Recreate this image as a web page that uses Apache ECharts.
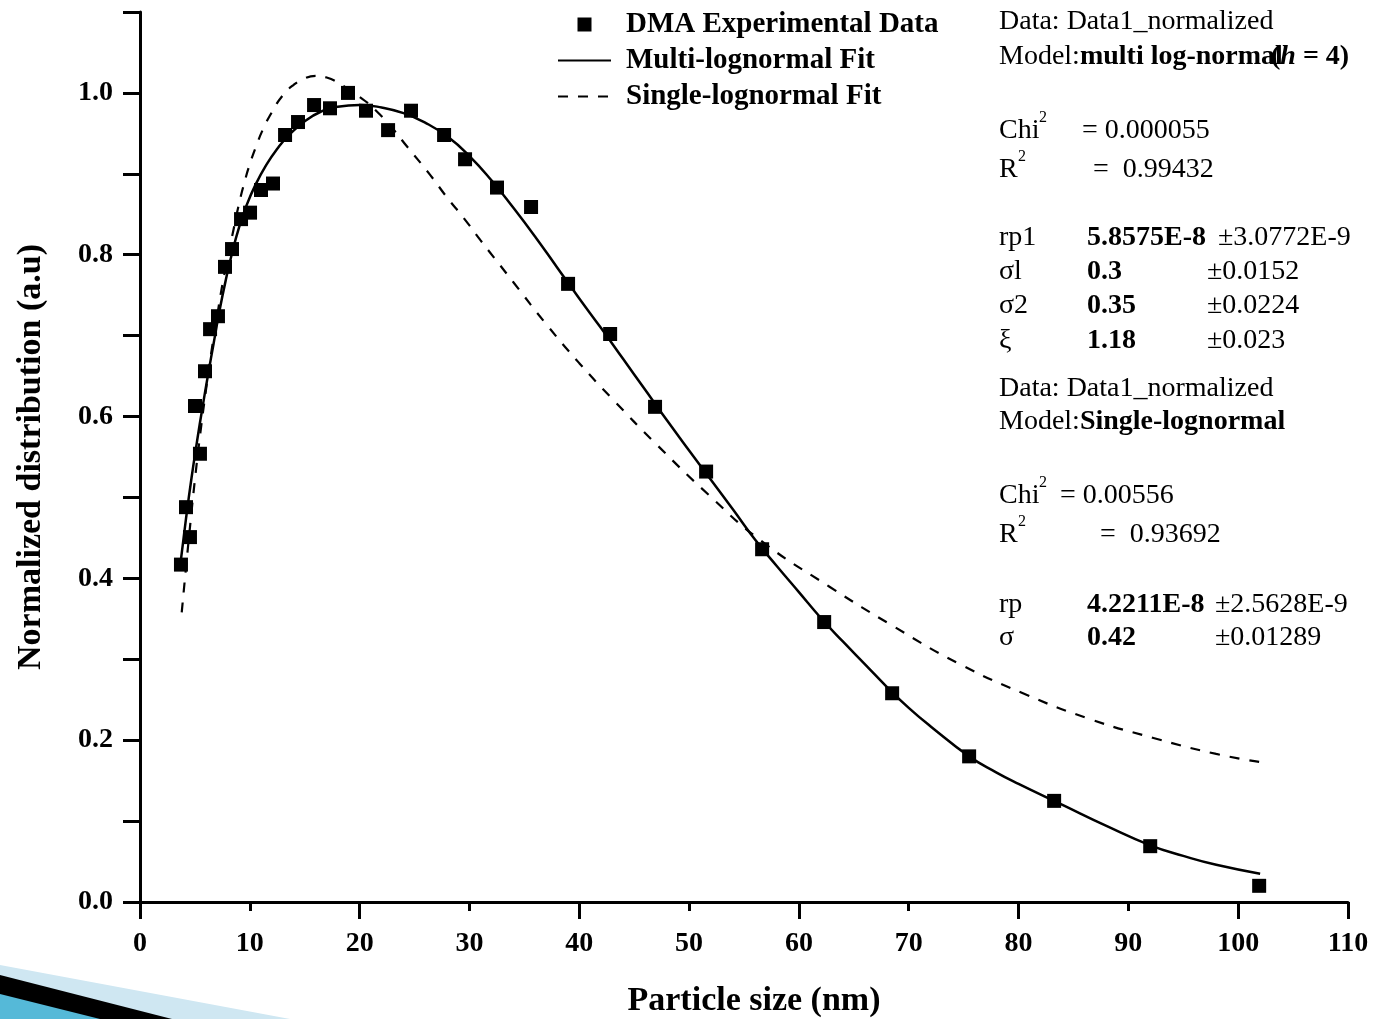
<!DOCTYPE html>
<html>
<head>
<meta charset="utf-8">
<script src="https://cdn.jsdelivr.net/npm/echarts@6/dist/echarts.min.js"></script>
<style>
  html, body { margin: 0; padding: 0; background: #ffffff; }
  #chart { width: 1375px; height: 1019px; }
</style>
</head>
<body>
<div id="chart"></div>
<script>
// DMA measurement: particle size (nm) and normalized distribution
const particleSize = [3.73, 4.19, 4.55, 5.01, 5.46, 5.92, 6.38, 7.10, 7.74, 8.38, 9.20, 10.02, 11.02, 12.11,
  13.21, 14.39, 15.85, 17.30, 18.94, 20.58, 22.59, 24.68, 27.69, 29.60, 32.51, 35.61, 38.98, 42.81,
  46.90, 51.55, 56.65, 62.30, 68.49, 75.50, 83.24, 91.99, 101.91];
const dmaValues = [0.417, 0.488, 0.451, 0.613, 0.554, 0.656, 0.708, 0.724, 0.785, 0.807, 0.844, 0.852, 0.880, 0.888,
  0.948, 0.964, 0.985, 0.981, 1.000, 0.978, 0.954, 0.978, 0.948, 0.918, 0.883, 0.859, 0.764, 0.702,
  0.612, 0.532, 0.436, 0.346, 0.258, 0.180, 0.125, 0.069, 0.020];

// Multi-lognormal fit curve
const multiFitX = [3.7, 4.2, 4.7, 5.2, 5.7, 6.2, 6.7, 7.2, 7.8, 8.4, 9.0, 9.7, 10.5, 11.5, 12.5, 13.5, 15, 16.5, 18,
  20, 22, 24, 26, 28, 30, 32, 34, 36, 38, 40, 42, 44, 46, 48, 50, 52, 54, 56, 58, 60, 62, 64, 66, 68, 70, 72,
  75.5, 78, 80, 84, 88, 92, 95, 98, 102];
const multiFitY = [0.420, 0.475, 0.525, 0.570, 0.612, 0.652, 0.690, 0.728, 0.768, 0.803, 0.833, 0.861, 0.886, 0.911,
  0.931, 0.947, 0.965, 0.977, 0.983, 0.985, 0.982, 0.975, 0.963, 0.946, 0.922, 0.892, 0.858, 0.822, 0.784,
  0.746, 0.709, 0.671, 0.633, 0.595, 0.558, 0.5215, 0.485, 0.448, 0.415, 0.383, 0.351, 0.322, 0.294, 0.266,
  0.240, 0.217, 0.180, 0.160, 0.146, 0.120, 0.094, 0.070, 0.057, 0.046, 0.035];

// Single-lognormal fit curve
const singleFitX = [3.8, 4.2, 4.6, 5.0, 5.5, 6.0, 6.5, 7.0, 7.5, 8.0, 8.5, 9.0, 9.5, 10.0, 10.6, 11.2, 12.0, 13.0,
  14.0, 15.0, 16.0, 17.0, 18.0, 19.0, 20.5, 21.5, 23.0, 24.3, 26.4, 28.0, 29.5, 31.0, 32.5, 34.0, 37.0, 40.0,
  43.0, 47.0, 51.8, 56.5, 62.75, 68.7, 74.5, 80.4, 86.3, 92.2, 98.0, 102.0];
const singleFitY = [0.358, 0.415, 0.470, 0.522, 0.580, 0.632, 0.680, 0.722, 0.763, 0.797, 0.830, 0.862, 0.889, 0.912,
  0.935, 0.955, 0.976, 0.997, 1.010, 1.018, 1.021, 1.019, 1.013, 1.004, 0.990, 0.978, 0.956, 0.934, 0.899,
  0.870, 0.845, 0.818, 0.792, 0.766, 0.714, 0.666, 0.622, 0.566, 0.503, 0.447, 0.390, 0.340, 0.295, 0.258,
  0.227, 0.203, 0.183, 0.173];

const seriesNames = ['DMA Experimental Data', 'Multi-lognormal Fit', 'Single-lognormal Fit'];

const zip = (xs, ys) => xs.map((x, i) => [x, ys[i]]);

const SERIF = '"Liberation Serif", "Times New Roman", serif';
const TXT = 28;

// Fit-report text blocks on the right
const graphicItems = [];
function addText(x, y, text, opt) {
  opt = opt || {};
  graphicItems.push({
    type: 'text', x: x, y: y, z: 10,
    style: {
      text: text,
      fontFamily: SERIF,
      fontSize: opt.size || TXT,
      fontWeight: opt.bold ? 'bold' : 'normal',
      fill: '#000',
      verticalAlign: 'middle',
      rich: {
        b: { fontFamily: SERIF, fontSize: TXT, fontWeight: 'bold', fill: '#000' },
        bi: { fontFamily: SERIF, fontSize: TXT, fontWeight: 'bold', fontStyle: 'italic', fill: '#000' }
      }
    }
  });
}

// block 1: multi log-normal
addText(999, 22, 'Data: Data1_normalized');
addText(999, 57, 'Model:{b|multi log-normal}');
addText(1271, 57, '{b|(}{bi|h}{b| = 4)}');
addText(999, 131, 'Chi');
addText(1039, 118, '2', { size: 16 });
addText(1082, 131, '= 0.000055');
addText(999, 170, 'R');
addText(1018, 157, '2', { size: 16 });
addText(1093, 170, '=  0.99432');
addText(999, 238, 'rp1');
addText(1087, 238, '5.8575E-8', { bold: true });
addText(1218, 238, '\u00b13.0772E-9');
addText(999, 272, '\u03c3l');
addText(1087, 272, '0.3', { bold: true });
addText(1207, 272, '\u00b10.0152');
addText(999, 306, '\u03c32');
addText(1087, 306, '0.35', { bold: true });
addText(1207, 306, '\u00b10.0224');
addText(999, 341, '\u03be');
addText(1087, 341, '1.18', { bold: true });
addText(1207, 341, '\u00b10.023');

// block 2: single log-normal
addText(999, 389, 'Data: Data1_normalized');
addText(999, 422, 'Model:{b|Single-lognormal}');
addText(999, 496, 'Chi');
addText(1039, 483, '2', { size: 16 });
addText(1060, 496, '= 0.00556');
addText(999, 535, 'R');
addText(1018, 522, '2', { size: 16 });
addText(1100, 535, '=  0.93692');
addText(999, 605, 'rp');
addText(1087, 605, '4.2211E-8', { bold: true });
addText(1215, 605, '\u00b12.5628E-9');
addText(999, 638, '\u03c3');
addText(1087, 638, '0.42', { bold: true });
addText(1215, 638, '\u00b10.01289');

// slide-theme ribbon in the lower-left corner
graphicItems.push(
  { type: 'polygon', z: 1, shape: { points: [[0, 965], [290, 1019], [0, 1019]] }, style: { fill: '#cfe7f2' } },
  { type: 'polygon', z: 2, shape: { points: [[0, 975], [172, 1019], [0, 1019]] }, style: { fill: '#000000' } },
  { type: 'polygon', z: 3, shape: { points: [[0, 994], [100, 1019], [0, 1019]] }, style: { fill: '#55b9d8' } }
);

const axisLineStyle = { color: '#000', width: 3 };
const hiddenMarker = { opacity: 0 };

const chart = echarts.init(document.getElementById('chart'), null, { renderer: 'canvas' });
chart.setOption({
  backgroundColor: '#ffffff',
  animation: false,
  grid: { left: 140, right: 27, top: 12, bottom: 117, containLabel: false, outerBoundsMode: 'none' },
  legend: {
    orient: 'vertical',
    left: 557,
    top: 10,
    padding: 0,
    itemWidth: 53,
    itemHeight: 14,
    itemGap: 7,
    selectedMode: false,
    symbolKeepAspect: true,
    textStyle: { fontFamily: SERIF, fontSize: 29, fontWeight: 'bold', color: '#000', lineHeight: 28, padding: [0, 0, 0, 10] },
    data: [
      { name: seriesNames[0], icon: 'path://M0 0H10V10H0Z' },
      { name: seriesNames[1], itemStyle: hiddenMarker },
      { name: seriesNames[2], itemStyle: hiddenMarker }
    ]
  },
  xAxis: [
    {
      type: 'value', min: 0, max: 110, interval: 10,
      name: 'Particle size (nm)', nameLocation: 'middle', nameGap: 82,
      nameTextStyle: { fontFamily: SERIF, fontSize: 34, fontWeight: 'bold', color: '#000', padding: [0, 0, 0, 20] },
      axisLine: { show: true, onZero: false, lineStyle: axisLineStyle },
      axisTick: { show: true, inside: false, length: 9, lineStyle: { color: '#000', width: 3 } },
      axisLabel: { margin: 28, fontFamily: SERIF, fontSize: TXT, fontWeight: 'bold', color: '#000' },
      splitLine: { show: false }
    },
    {
      type: 'value', min: 0, max: 110, interval: 20, position: 'bottom',
      axisLine: { show: false, onZero: false },
      axisTick: { show: true, inside: false, length: 17, lineStyle: { color: '#000', width: 3 } },
      axisLabel: { show: false },
      splitLine: { show: false }
    }
  ],
  yAxis: {
    type: 'value', min: 0, max: 1.1, interval: 0.1,
    name: 'Normalized distribution (a.u)', nameLocation: 'middle', nameGap: 92,
    nameTextStyle: { fontFamily: SERIF, fontSize: 34, fontWeight: 'bold', color: '#000' },
    axisLine: { show: true, onZero: false, lineStyle: axisLineStyle },
    axisTick: { show: true, inside: false, length: 17, lineStyle: { color: '#000', width: 3 } },
    axisLabel: {
      margin: 27, fontFamily: SERIF, fontSize: TXT, fontWeight: 'bold', color: '#000',
      formatter: v => (Math.round(v * 10) % 2 === 0 ? v.toFixed(1) : '')
    },
    splitLine: { show: false }
  },
  series: [
    {
      name: seriesNames[0], type: 'scatter', symbol: 'path://M0 0H10V10H0Z', symbolSize: 14, z: 5,
      itemStyle: { color: '#000', opacity: 1 },
      data: zip(particleSize, dmaValues)
    },
    {
      name: seriesNames[1], type: 'line', smooth: 0.5, symbol: 'none', z: 3,
      lineStyle: { color: '#000', width: 2.5, type: 'solid' },
      itemStyle: { color: '#000' },
      data: zip(multiFitX, multiFitY)
    },
    {
      name: seriesNames[2], type: 'line', smooth: 0.5, symbol: 'none', z: 3,
      lineStyle: { color: '#000', width: 2.2, type: [10, 10] },
      itemStyle: { color: '#000' },
      data: zip(singleFitX, singleFitY)
    }
  ],
  graphic: graphicItems
});
</script>
</body>
</html>
